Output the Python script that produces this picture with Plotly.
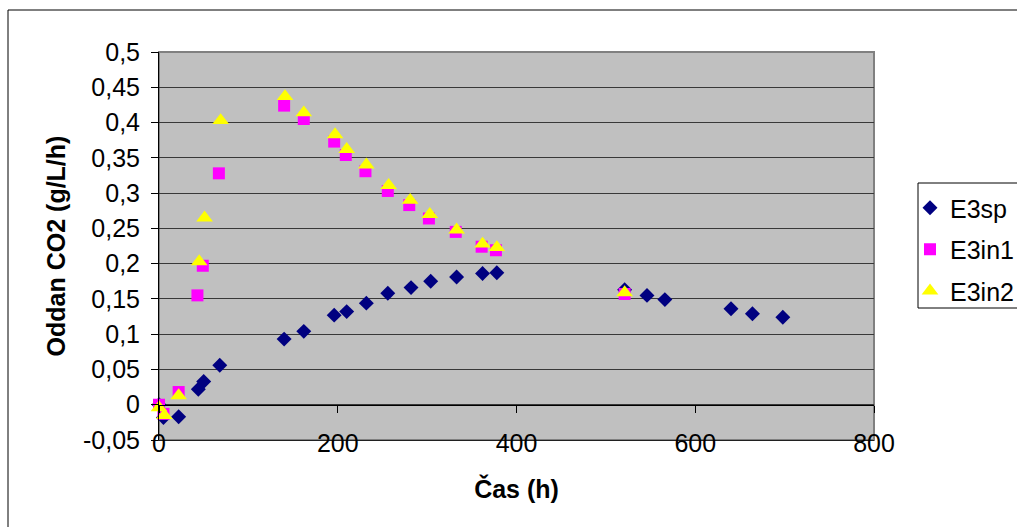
import plotly.graph_objects as go

# ---- data ----
t_sp = [0, 5, 22, 44, 50, 68, 140, 162, 196, 210, 232, 256, 282, 304, 333, 362, 378, 521, 546, 566, 640, 664, 698]
e3sp = [0, -0.018, -0.017, 0.022, 0.033, 0.056, 0.093, 0.104, 0.127, 0.132, 0.144, 0.158, 0.166, 0.175, 0.181, 0.186, 0.187, 0.163, 0.155, 0.149, 0.136, 0.129, 0.124]

t_in1 = [0, 5, 22, 43, 49, 67, 140, 162, 196, 209, 231, 256, 280, 302, 332, 361, 377, 521]
e3in1 = [0, -0.013, 0.018, 0.155, 0.197, 0.328, 0.424, 0.405, 0.373, 0.354, 0.331, 0.303, 0.283, 0.264, 0.245, 0.224, 0.219, 0.157]

t_in2 = [0, 6, 22, 45, 51, 69, 141, 162, 197, 210, 232, 257, 281, 303, 333, 362, 378, 521]
e3in2 = [-0.004, -0.015, 0.013, 0.203, 0.265, 0.403, 0.437, 0.414, 0.383, 0.362, 0.34, 0.311, 0.29, 0.27, 0.248, 0.228, 0.223, 0.159]

y_tickvals = [-0.05, 0, 0.05, 0.1, 0.15, 0.2, 0.25, 0.3, 0.35, 0.4, 0.45, 0.5]
y_ticktext = ["-0,05", "0", "0,05", "0,1", "0,15", "0,2", "0,25", "0,3", "0,35", "0,4", "0,45", "0,5"]
x_tickvals = [0, 200, 400, 600, 800]
x_ticktext = ["0", "200", "400", "600", "800"]

FONT = "Liberation Sans, Arial, sans-serif"
FS = 25

fig = go.Figure()
fig.add_trace(go.Scatter(x=t_sp, y=e3sp, mode="markers", name="E3sp", legendgroup="a",
                         marker=dict(symbol="diamond", size=11.5, color="#000080"), cliponaxis=False))
fig.add_trace(go.Scatter(x=t_in1, y=e3in1, mode="markers", name="E3in1", legendgroup="b",
                         marker=dict(symbol="square", size=12, color="#FF00FF"), cliponaxis=False))
fig.add_trace(go.Scatter(x=t_in2, y=e3in2, mode="markers", name="E3in2", legendgroup="c",
                         marker=dict(symbol="triangle-up", size=14.5, color="#FFFF00"), cliponaxis=False))
# empty helper traces so that the overlaid axes (zero-line ticks, tick labels) get drawn
fig.add_trace(go.Scatter(x=[], y=[], xaxis="x2", showlegend=False, hoverinfo="skip"))
fig.add_trace(go.Scatter(x=[], y=[], xaxis="x3", showlegend=False, hoverinfo="skip"))

L, R, T, B = 159, 143, 52, 87
W, H = 1017, 527
pw, ph = W - L - R, H - T - B

fig.update_layout(
    width=W, height=H,
    margin=dict(l=L, r=R, t=T, b=B, pad=0, autoexpand=False),
    paper_bgcolor="white",
    plot_bgcolor="#C0C0C0",
    font=dict(family=FONT, size=FS, color="black"),
    showlegend=True,
    legend=dict(x=(910 - L) / pw, y=(H - B - 185) / ph, xanchor="left", yanchor="top",
                bgcolor="rgba(0,0,0,0)", borderwidth=0, font=dict(size=FS),
                tracegroupgap=6, traceorder="grouped"),
    xaxis=dict(range=[0, 800], tickvals=x_tickvals, showticklabels=False, ticks="",
               showgrid=False, zeroline=False, showline=True, linecolor="#202020", linewidth=1,
               title=dict(text="<b>Čas (h)</b>", font=dict(size=FS), standoff=40)),
    xaxis2=dict(range=[0, 800], overlaying="x", anchor="free", position=0.05 / 0.55,
                tickvals=x_tickvals, showticklabels=False, ticks="outside", ticklen=7,
                tickcolor="black", showgrid=False, zeroline=False, showline=True,
                linecolor="black", linewidth=1),
    xaxis3=dict(range=[0, 800], overlaying="x", anchor="free", position=0.035,
                tickvals=x_tickvals, ticktext=x_ticktext, ticks="", showgrid=False,
                zeroline=False, showline=False, tickfont=dict(size=FS)),
    yaxis=dict(range=[-0.05, 0.5], tickvals=y_tickvals, ticktext=y_ticktext,
               ticks="outside", ticklen=7, tickcolor="black", showline=True,
               linecolor="black", linewidth=1, showgrid=True, gridcolor="#383838",
               gridwidth=1, zeroline=False, tickfont=dict(size=FS), ticklabelstandoff=6,
               title=dict(text="<b>Oddan CO2 (g/L/h)</b>", font=dict(size=FS), standoff=10)),
    shapes=[
        dict(type="rect", xref="paper", yref="paper", x0=0, y0=0, x1=1, y1=1,
             line=dict(color="#808080", width=2), layer="below"),
        dict(type="rect", xref="paper", yref="paper",
             x0=(918 - L) / pw, x1=(1030 - L) / pw,
             y0=(H - B - 308) / ph, y1=(H - B - 183) / ph,
             line=dict(color="black", width=1), layer="above"),
        dict(type="rect", xref="paper", yref="paper",
             x0=(8 - L) / pw, x1=(1030 - L) / pw,
             y0=(H - B - 540) / ph, y1=(H - B - 10) / ph,
             line=dict(color="black", width=1), layer="above"),
    ],
)

fig.write_html("out.html")
